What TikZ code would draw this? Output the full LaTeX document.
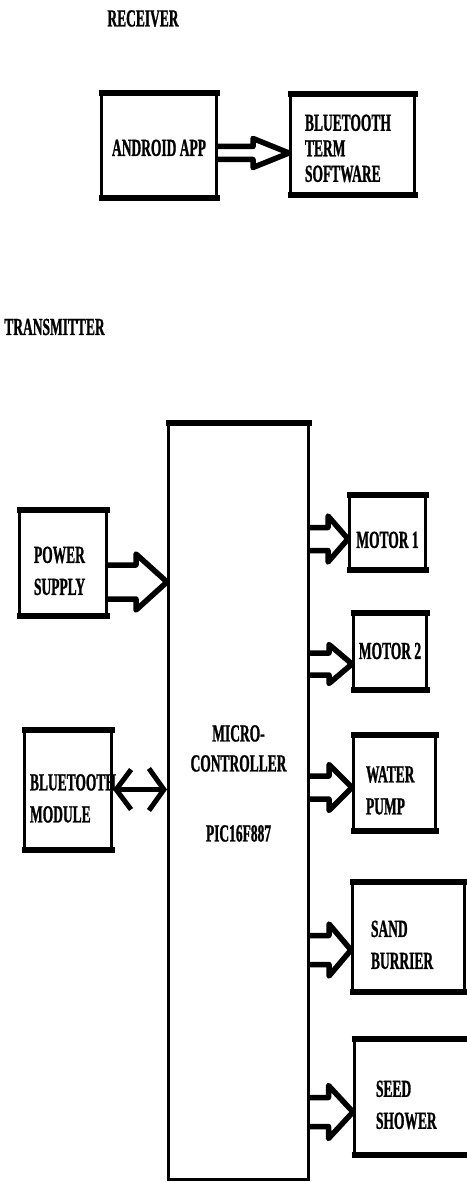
\documentclass[tikz,border=0pt]{standalone}
\usepackage{fontspec}
\usetikzlibrary{arrows.meta,calc}
\newfontfamily\blockfont[FakeStretch=0.55,FakeBold=1]{Liberation Serif}
% block arrow: start, tip, shaft half, head half, head length
\newcommand{\hollowarrow}[5]{%
  \draw[hollow] let \p1=#1, \p2=#2 in
    (\x1,\y1+#3pt) -- (\x2-#5pt,\y1+#3pt) -- (\x2-#5pt,\y1+#4pt) -- (\x2,\y1)
    -- (\x2-#5pt,\y1-#4pt) -- (\x2-#5pt,\y1-#3pt) -- (\x1,\y1-#3pt);
}

\begin{document}
\begin{tikzpicture}[x=1pt, y=-1pt, every node/.style={font=\blockfont\bfseries\fontsize{24.5}{32}\selectfont}]
  \tikzset{
    blk/.style={draw, line width=3pt, align=left, inner sep=0pt},
    bar/.style={line width=6pt, shorten <=-1.5pt, shorten >=-1.5pt},
    hollow/.style={line width=5.5pt, line join=round},
    dbl/.style={line width=5pt, {Straight Barb[length=15pt,width=40pt]}-{Straight Barb[length=15pt,width=42pt]}}
  }
  \useasboundingbox (0,0) rectangle (466,1182);

  % --- RECEIVER ---
  \node (recv) at (143,18.5) {RECEIVER};
  \node[blk, minimum width=115pt, minimum height=102pt, text height=20pt] (app) at (159,146) {ANDROID APP};
  \node[blk, minimum width=124pt, minimum height=98pt, text width=95pt, text height=23pt,
        font=\blockfont\bfseries\fontsize{24.5}{25.5}\selectfont] (bts) at (352.5,145) {BLUETOOTH\\TERM\\SOFTWARE};

  % --- TRANSMITTER ---
  \node (trans) at (54.5,327) {TRANSMITTER};
  \node[blk, minimum width=140pt, minimum height=754.5pt] (mc) at (238.5,802) {};
  \node[inner sep=0pt, anchor=north, align=center, font=\blockfont\bfseries\fontsize{24.5}{30}\selectfont]
    (mctext) at (238.5,725) {MICRO-\\CONTROLLER\\[40pt]PIC16F887};
  \node[blk, minimum width=87pt, minimum height=103pt, text width=58pt, text height=33pt] (ps) at (63,562.5) {POWER\\SUPPLY};
  \node[blk, minimum width=87pt, minimum height=117pt, text width=76pt, text height=34pt] (btm) at (68,789.5) {BLUETOOTH\\MODULE};
  \node[blk, minimum width=76pt, minimum height=72pt, text height=32pt] (m1) at (387.5,532) {MOTOR 1};
  \node[blk, minimum width=73pt, minimum height=74pt] (m2) at (390,651) {MOTOR 2};
  \node[blk, minimum width=82pt, minimum height=93pt, text width=57pt, text height=32pt] (wp) at (394.5,782.5) {WATER\\PUMP};
  \node[blk, minimum width=112pt, minimum height=107pt, text width=75pt, text height=33pt] (sb) at (408.5,936.5) {SAND\\BURRIER};
  \node[blk, minimum width=116pt, minimum height=113pt, text width=73pt, text height=33pt] (ss) at (412.5,1096.5) {SEED\\SHOWER};

  % heavy top and bottom edges
  \foreach \n in {app,bts,ps,btm,m1,m2,wp,sb,ss} {
    \draw[bar] (\n.north west) -- (\n.north east);
    \draw[bar] (\n.south west) -- (\n.south east);
  }
  \draw[bar] (mc.north west) -- (mc.north east);

  % --- arrows ---
  \hollowarrow{($(app.east)+(0,7)$)}{(bts.west)}{6.5}{14.5}{36}
  \hollowarrow{($(ps.east)+(0,19.5)$)}{(mc.west)}{17}{28}{31}
  \hollowarrow{($(mc.east |- m1.west)+(0,7)$)}{(m1.west)}{11.5}{23}{20}
  \hollowarrow{($(mc.east |- m2.west)+(0,13)$)}{(m2.west)}{11}{19.5}{23}
  \hollowarrow{($(mc.east |- wp.west)+(0,5)$)}{(wp.west)}{11.5}{23}{23}
  \hollowarrow{($(mc.east |- sb.west)+(0,13.5)$)}{(sb.west)}{14.5}{26}{22}
  \hollowarrow{($(mc.east |- ss.west)+(0,15.5)$)}{(ss.west)}{14.5}{26.5}{24.5}
  \draw[dbl] (btm.east) -- (btm.east -| mc.west);
\end{tikzpicture}
\end{document}
